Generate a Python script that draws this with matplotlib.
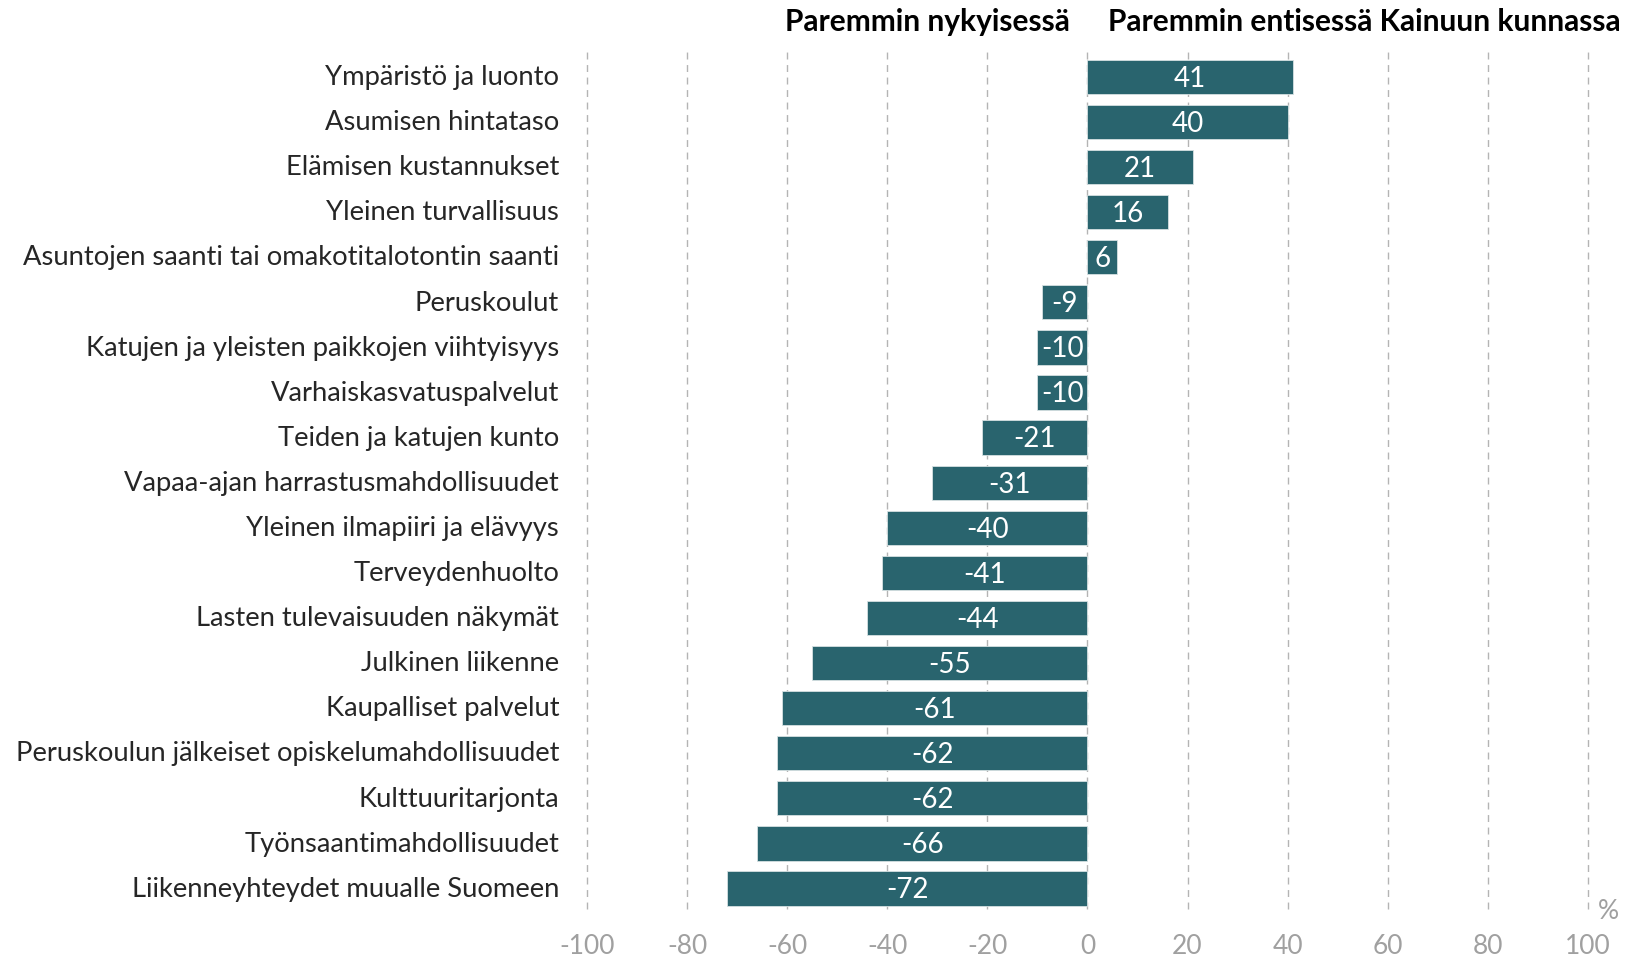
import matplotlib.pyplot as plt
import matplotlib.transforms as mtransforms
import numpy as np

plt.rcParams['font.family'] = ['Lato', 'DejaVu Sans']

categories = ['Ympäristö ja luonto', 'Asumisen hintataso', 'Elämisen kustannukset',
              'Yleinen turvallisuus', 'Asuntojen saanti tai omakotitalotontin saanti',
              'Peruskoulut', 'Katujen ja yleisten paikkojen viihtyisyys',
              'Varhaiskasvatuspalvelut', 'Teiden ja katujen kunto',
              'Vapaa-ajan harrastusmahdollisuudet', 'Yleinen ilmapiiri ja elävyys',
              'Terveydenhuolto', 'Lasten tulevaisuuden näkymät', 'Julkinen liikenne',
              'Kaupalliset palvelut', 'Peruskoulun jälkeiset opiskelumahdollisuudet',
              'Kulttuuritarjonta', 'Työnsaantimahdollisuudet',
              'Liikenneyhteydet muualle Suomeen']
values = [41, 40, 21, 16, 6, -9, -10, -10, -21, -31, -40, -41, -44, -55, -61, -62, -62, -66, -72]
xticks = np.arange(-100, 101, 20)

bar_color = '#29646E'
grid_color = '#B4B4B4'
tick_color = '#A0A0A0'

fig = plt.figure(figsize=(16.29, 9.58), dpi=100)
ax = fig.add_axes([0.3603, 0.0511, 0.6145, 0.8946])

y = np.arange(len(categories))
ax.barh(y, values, height=0.76, color=bar_color, edgecolor='#D5E0E2',
        linewidth=0.6, zorder=3)

for yi, v in zip(y, values):
    ax.text(v / 2, yi + 0.04, '%d' % v, ha='center', va='center', color='white',
            fontsize=20, zorder=4)

ax.set_xlim(-100, 100)
ax.set_ylim(18.455, -0.552)
ax.set_xticks(xticks)
ax.set_xticklabels([str(t) for t in xticks], color=tick_color, fontsize=19)
ax.set_yticks(y - 0.04)
ax.set_yticklabels(categories, fontsize=19.7, color='#262626')
ax.tick_params(axis='both', length=0)
ax.tick_params(axis='x', pad=18)
ax.tick_params(axis='y', pad=20)

for t in xticks:
    ax.axvline(t, color=grid_color, linewidth=1, linestyle=(0, (5, 4)),
               zorder=1, clip_on=False)

for s in ax.spines.values():
    s.set_visible(False)

# percent sign just right of the last gridline
pct = mtransforms.offset_copy(ax.transAxes, fig=fig, x=7, y=-2, units='points')
ax.text(1.0, 0.0, '%', transform=pct, ha='left', va='center',
        color=tick_color, fontsize=19)

fig.text(1070 / 1629, 1 - 22 / 958, 'Paremmin nykyisessä', ha='right', va='center',
         fontsize=21.5, fontweight='bold', color='black')
fig.text(1108 / 1629, 1 - 22 / 958, 'Paremmin entisessä Kainuun kunnassa', ha='left',
         va='center', fontsize=21.5, fontweight='bold', color='black')

fig.savefig('out.png', dpi=100)
